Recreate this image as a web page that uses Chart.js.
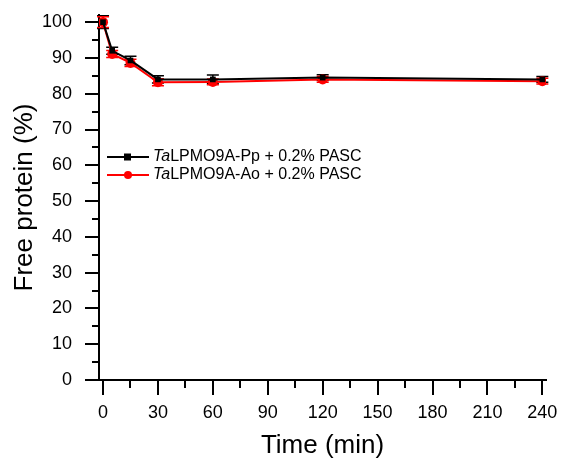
<!DOCTYPE html>
<html>
<head>
<meta charset="utf-8">
<script src="https://cdn.jsdelivr.net/npm/chart.js@4/dist/chart.umd.min.js"></script>
<style>
  html, body { margin: 0; padding: 0; background: #fff; }
  #wrap { width: 564px; height: 461px; }
</style>
</head>
<body>
<div id="wrap"><canvas id="chart" width="564" height="461"></canvas></div>
<script>
// data
const times = [0, 5, 15, 30, 60, 120, 240];
const ppValues = [100, 92, 89.3, 84, 84, 84.5, 84];
const ppErrors = [1.8, 1.0, 1.2, 1.0, 1.2, 0.8, 0.8];
const aoValues = [100, 91.1, 88.6, 83.2, 83.3, 84, 83.5];
const aoErrors = [1.5, 1.0, 1.0, 1.0, 0.8, 0.8, 0.8];
const xTicks = [0, 30, 60, 90, 120, 150, 180, 210, 240];
const yTicks = [0, 10, 20, 30, 40, 50, 60, 70, 80, 90, 100];
const seriesNames = ['LPMO9A-Pp + 0.2% PASC', 'LPMO9A-Ao + 0.2% PASC'];

const toPoints = (vals) => times.map((t, i) => ({ x: t, y: vals[i] }));

// error bars, axis ticks (major + minor) and the legend are drawn here
const extras = {
  id: 'extras',
  beforeDatasetsDraw(chart) {
    const ctx = chart.ctx;
    const xs = chart.scales.x, ys = chart.scales.y;
    chart.data.datasets.forEach((ds, di) => {
      const errs = di === 0 ? ppErrors : aoErrors;
      ctx.save();
      ctx.strokeStyle = ds.borderColor;
      ctx.lineWidth = 1.5;
      ds.data.forEach((p, i) => {
        const px = xs.getPixelForValue(p.x);
        const top = ys.getPixelForValue(p.y + errs[i]);
        const bot = ys.getPixelForValue(p.y - errs[i]);
        ctx.beginPath();
        ctx.moveTo(px, top); ctx.lineTo(px, bot);
        ctx.moveTo(px - 6, top); ctx.lineTo(px + 6, top);
        ctx.moveTo(px - 6, bot); ctx.lineTo(px + 6, bot);
        ctx.stroke();
      });
      ctx.restore();
    });
  },
  afterDraw(chart) {
    const ctx = chart.ctx;
    const xs = chart.scales.x, ys = chart.scales.y;
    const area = chart.chartArea;
    ctx.save();
    ctx.strokeStyle = '#000';
    ctx.lineWidth = 2;
    ctx.beginPath();
    for (let v = 0; v <= 240; v += 15) {
      const px = Math.round(xs.getPixelForValue(v));
      const len = v % 30 === 0 ? 15 : 8;
      ctx.moveTo(px, area.bottom); ctx.lineTo(px, area.bottom + len);
    }
    for (let v = 0; v <= 100; v += 5) {
      const py = Math.round(ys.getPixelForValue(v));
      const len = v % 10 === 0 ? 14 : 7;
      ctx.moveTo(area.left, py); ctx.lineTo(area.left - len, py);
    }
    ctx.stroke();

    // legend
    chart.data.datasets.forEach((ds, i) => {
      const y = 157 + i * 18;
      ctx.strokeStyle = ds.borderColor;
      ctx.lineWidth = 2;
      ctx.beginPath();
      ctx.moveTo(107, y); ctx.lineTo(149, y);
      ctx.stroke();
      ctx.fillStyle = ds.borderColor;
      if (i === 0) {
        ctx.fillRect(124, y - 3.5, 7, 7);
      } else {
        ctx.beginPath();
        ctx.arc(128, y, 4, 0, Math.PI * 2);
        ctx.fill();
      }
      ctx.fillStyle = '#000';
      ctx.textBaseline = 'middle';
      ctx.font = 'italic 16px "Liberation Sans", Arial, sans-serif';
      ctx.fillText('Ta', 153, y);
      const w = ctx.measureText('Ta').width;
      ctx.font = '16px "Liberation Sans", Arial, sans-serif';
      ctx.fillText(seriesNames[i], 153 + w, y);
    });
    ctx.restore();
  }
};

new Chart(document.getElementById('chart'), {
  type: 'line',
  data: {
    datasets: [
      {
        label: 'TaLPMO9A-Pp + 0.2% PASC',
        data: toPoints(ppValues),
        borderColor: '#000000',
        backgroundColor: '#000000',
        borderWidth: 2,
        pointStyle: 'rect',
        pointRadius: 4,
        pointBorderWidth: 0
      },
      {
        label: 'TaLPMO9A-Ao + 0.2% PASC',
        data: toPoints(aoValues),
        borderColor: '#ff0000',
        backgroundColor: '#ff0000',
        borderWidth: 2,
        pointStyle: 'circle',
        pointRadius: 5,
        pointBorderWidth: 0
      }
    ]
  },
  options: {
    responsive: false,
    animation: false,
    layout: { padding: { left: 0, top: 15, right: 18, bottom: 0 } },
    plugins: { legend: { display: false }, tooltip: { enabled: false } },
    scales: {
      x: {
        type: 'linear',
        min: -2.2,
        max: 242,
        afterBuildTicks: (s) => { s.ticks = xTicks.map(v => ({ value: v })); },
        afterFit: (s) => { s.height = 81; s.paddingLeft = 0; s.paddingRight = 0; },
        grid: { display: false },
        border: { display: true, color: '#000', width: 2 },
        ticks: { color: '#000', padding: 14, maxRotation: 0, font: { family: '"Liberation Sans", Arial', size: 18 } },
        title: { display: true, text: 'Time (min)', color: '#000', padding: { top: 0, bottom: 0 }, font: { family: '"Liberation Sans", Arial', size: 26 } }
      },
      y: {
        min: 0,
        max: 102,
        afterBuildTicks: (s) => { s.ticks = yTicks.map(v => ({ value: v })); },
        afterFit: (s) => { s.width = 99; s.paddingTop = 0; s.paddingBottom = 0; },
        grid: { display: false },
        border: { display: true, color: '#000', width: 2 },
        ticks: { color: '#000', padding: 19, font: { family: '"Liberation Sans", Arial', size: 18 } },
        title: { display: true, text: 'Free protein (%)', color: '#000', padding: { top: 9, bottom: 0 }, font: { family: '"Liberation Sans", Arial', size: 26 } }
      }
    }
  },
  plugins: [extras]
});
</script>
</body>
</html>
